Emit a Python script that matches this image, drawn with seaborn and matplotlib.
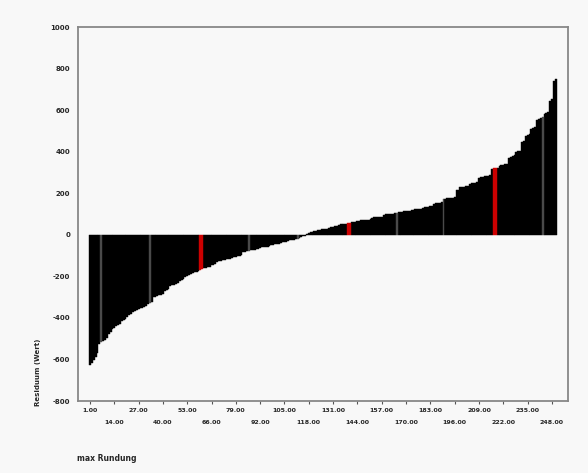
import numpy as np
import pandas as pd
import matplotlib
matplotlib.use("Agg")
import matplotlib.pyplot as plt
import seaborn as sns

# sorted residual per case (250 cases)
residuals = [
    -626, -615, -602, -590, -569, -525, -518, -511, -505, -498,
    -476, -468, -452, -446, -440, -436, -430, -416, -410, -404,
    -394, -388, -382, -370, -366, -361, -356, -353, -350, -347,
    -344, -332, -328, -323, -300, -297, -294, -291, -288, -285,
    -268, -265, -262, -246, -243, -240, -237, -234, -220, -217,
    -214, -201, -198, -195, -186, -183, -180, -177, -174, -170,
    -162, -160, -158, -156, -154, -146, -143, -140, -130, -127,
    -125, -122, -120, -118, -116, -114, -112, -106, -104, -102,
    -100, -98, -82, -80, -78, -76, -74, -72, -71, -69,
    -67, -62, -60, -59, -57, -56, -54, -49, -47, -46,
    -44, -42, -37, -35, -34, -32, -30, -26, -24, -23,
    -21, -19, -17, -9, -6, -3, 2, 8, 14, 16,
    18, 20, 24, 25, 27, 28, 29, 30, 32, 38,
    40, 41, 42, 50, 51, 52, 53, 54, 55, 56,
    62, 63, 64, 65, 66, 70, 71, 72, 73, 74,
    75, 82, 84, 85, 86, 87, 88, 98, 99, 100,
    101, 102, 103, 104, 105, 110, 111, 112, 113, 114,
    115, 116, 121, 122, 123, 124, 126, 127, 128, 134,
    135, 136, 138, 140, 150, 152, 153, 155, 157, 172,
    174, 176, 177, 178, 180, 182, 214, 218, 230, 232,
    233, 235, 237, 246, 248, 249, 251, 253, 276, 278,
    280, 282, 284, 286, 288, 318, 320, 322, 324, 334,
    336, 338, 340, 342, 372, 376, 379, 383, 398, 402,
    406, 446, 454, 476, 482, 488, 508, 514, 520, 555,
    560, 565, 570, 582, 587, 592, 645, 655, 740, 752,
]
assert len(residuals) == 250

case_ids = [str(i) for i in range(1, len(residuals) + 1)]
red_cases = [60, 61, 139, 140, 217, 218]
grey_cases = [7, 33, 86, 112, 165, 190, 243]
y_ticks = [-800, -600, -400, -200, 0, 200, 400, 600, 800, 1000]

kind = []
for i in range(1, len(residuals) + 1):
    if i in red_cases:
        kind.append("red")
    elif i in grey_cases:
        kind.append("grey")
    else:
        kind.append("normal")

df = pd.DataFrame({"case": case_ids, "residual": residuals, "kind": kind})

sns.set_theme(style="white")
plt.rcParams["font.family"] = ["DejaVu Sans"]

bg = "#f8f8f8"
fig = plt.figure(figsize=(5.88, 4.73), dpi=100, facecolor=bg)
ax = fig.add_axes([0.1335, 0.1522, 0.966 - 0.1335, 0.9423 - 0.1522])
ax.set_facecolor(bg)

sns.barplot(data=df, x="case", y="residual", hue="kind", order=case_ids,
            palette={"normal": "black", "grey": "#4a4a4a", "red": "#cc0000"},
            dodge=False, width=1.0, saturation=1, legend=False, ax=ax)

for p in ax.patches:
    p.set_edgecolor(p.get_facecolor())
    p.set_linewidth(0.3)

ax.set_xlim(-6.15, 255.6)
ax.set_ylim(-800, 1000)

# x tick labels on two staggered rows
pos = list(range(0, len(residuals), 13))
labels = [f"{p + 1}.00" for p in pos]
ax.set_xticks(pos[0::2], labels[0::2])
ax.set_xticks(pos[1::2], labels[1::2], minor=True)
ax.tick_params(axis="x", which="both", length=2, width=0.8, color="#555555",
               labelsize=4.5, bottom=True)
ax.tick_params(axis="x", which="major", pad=3)
ax.tick_params(axis="x", which="minor", pad=12)
for lab in ax.get_xticklabels(which="both"):
    lab.set_fontweight("bold")

ax.set_yticks(y_ticks, [str(v) for v in y_ticks])
ax.tick_params(axis="y", length=0, pad=6, labelsize=5)
for lab in ax.get_yticklabels():
    lab.set_fontweight("bold")

for s in ax.spines.values():
    s.set_visible(True)
    s.set_color("#888888")
    s.set_linewidth(1.3)

ax.set_xlabel("")
ax.set_ylabel("")
fig.text(77 / 588, 1 - 458 / 473, "max Rundung", fontsize=5.5,
         fontweight="bold", ha="left", va="center")
fig.text(38 / 588, 1 - 372 / 473, "Residuum (Wert)", fontsize=5,
         fontweight="bold", rotation=90, ha="center", va="center")

fig.savefig("out.png", dpi=100, facecolor=bg)
